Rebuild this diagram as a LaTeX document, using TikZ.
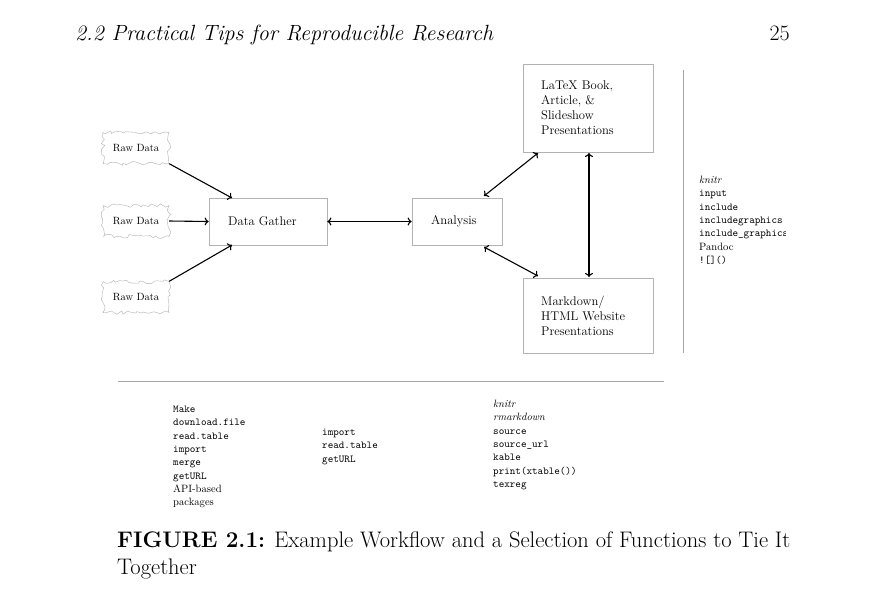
\documentclass[tikz,border=0pt]{standalone}
\usetikzlibrary{decorations.pathmorphing,arrows.meta}
\begin{document}
\begin{tikzpicture}[x=1pt,y=-1pt,
  rawbox/.style={draw=gray!60, decorate, decoration={random steps, segment length=3.5pt, amplitude=2pt},
     minimum width=66pt, minimum height=31pt, inner sep=0pt, font=\fontsize{10.5}{12}\selectfont},
  mainbox/.style={draw=gray!60, line width=0.7pt, inner sep=0pt},
  mtext/.style={anchor=west, inner sep=0pt, font=\fontsize{12.6}{15}\selectfont},
  boxtext/.style={align=left, anchor=north west, inner sep=0pt, font=\fontsize{12.6}{15}\selectfont},
  listtext/.style={align=left, anchor=north west, inner sep=0pt, font=\fontsize{10.6}{13.3}\selectfont},
  arr/.style={-{To[length=4pt,width=8pt]}, line width=1.1pt},
  darr/.style={{To[length=4pt,width=8pt]}-{To[length=4pt,width=8pt]}, line width=1.1pt},
  sep/.style={draw=gray!70, line width=0.8pt}]
\useasboundingbox (0,0) rectangle (889,595);
\fill[white] (0,0) rectangle (889,595);
% header
\node[anchor=base west, inner sep=0pt, font=\fontsize{22}{26}\selectfont\itshape] (hdr) at (75,40) {2.2 Practical Tips for Reproducible Research};
\node[anchor=base east, inner sep=0pt, font=\fontsize{22}{26}\selectfont] (pg) at (790,40) {25};
% raw data
\node[rawbox] (r1) at (136,148) {Raw Data};
\node[rawbox] (r2) at (136,221) {Raw Data};
\node[rawbox] (r3) at (136,297) {Raw Data};
% main boxes
\node[mainbox, minimum width=118pt, minimum height=47pt] (dg) at (268,221.5) {};
\node[mtext] (dgt) at (228,221.5) {Data Gather};
\node[mainbox, minimum width=90pt, minimum height=47pt] (an) at (457,221.5) {};
\node[mtext] (ant) at (431,221.5) {Analysis};
\node[mainbox, minimum width=130pt, minimum height=88pt] (lx) at (588,108) {};
\node[boxtext] (lxt) at (541,81) {LaTeX Book,\\Article, \&\\Slideshow\\Presentations};
\node[mainbox, minimum width=130pt, minimum height=75pt] (md) at (588,315.5) {};
\node[boxtext] (mdt) at (541,296) {Markdown/\\HTML Website\\Presentations};
% arrows
\coordinate (a1) at (232,198);
\coordinate (a3) at (232,245);
\draw[arr] (r1.south east) -- (a1);
\draw[arr] (r2.east) -- (dg.west);
\draw[arr] (r3.north east) -- (a3);
\draw[darr] (dg.east) -- (an.west);
\coordinate (b1) at (484,196);
\coordinate (b2) at (538,153);
\coordinate (c1) at (484,247);
\coordinate (c2) at (538,276);
\draw[darr] (b1) -- (b2);
\draw[darr] (c1) -- (c2);
\coordinate (v1) at (589,153);
\coordinate (v2) at (589,277);
\draw[darr] (v1) -- (v2);
% separators
\coordinate (s1) at (683,70);
\coordinate (s2) at (683,353);
\draw[sep] (s1) -- (s2);
\coordinate (h1) at (118,381.5);
\coordinate (h2) at (664,381.5);
\draw[sep] (h1) -- (h2);
% right list
\begin{scope}
\clip (690,170) rectangle (785,270);
\node[listtext] (rl) at (699,176) {\textit{knitr}\\\texttt{input}\\\texttt{include}\\\texttt{includegraphics}\\\texttt{include\_graphics}\\Pandoc\\\texttt{![]()}};
\end{scope}
% bottom lists
\node[listtext] (l1) at (173,406) {\texttt{Make}\\\texttt{download.file}\\\texttt{read.table}\\\texttt{import}\\\texttt{merge}\\\texttt{getURL}\\API-based\\packages};
\node[listtext] (l2) at (322,429) {\texttt{import}\\\texttt{read.table}\\\texttt{getURL}};
\node[listtext] (l3) at (493,400) {\textit{knitr}\\\textit{rmarkdown}\\\texttt{source}\\\texttt{source\_url}\\\texttt{kable}\\\texttt{print(xtable())}\\\texttt{texreg}};
% caption
\node[anchor=base west, inner sep=0pt, align=left, font=\fontsize{22.5}{27}\selectfont] (cap) at (117,574) {\textbf{FIGURE 2.1:} Example Workflow and a Selection of Functions to Tie It\\Together};
\end{tikzpicture}
\end{document}
